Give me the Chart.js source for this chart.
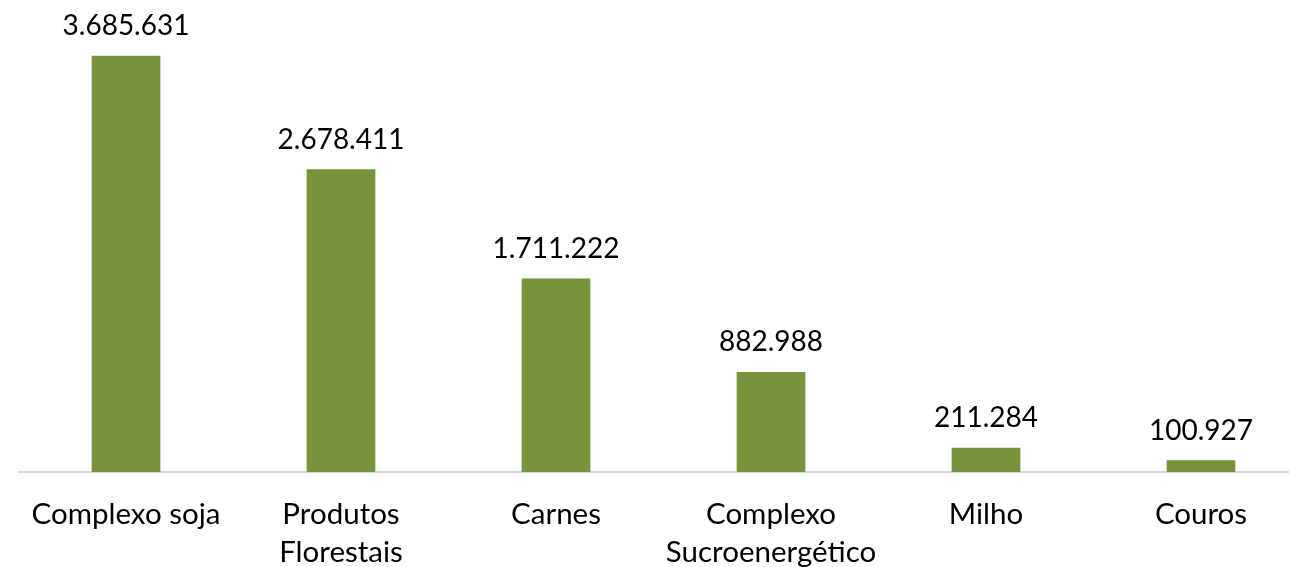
<!DOCTYPE html>
<html lang="pt-BR">
<head>
	<meta charset="UTF-8">
	<title>Exportações</title>
	<style>
		html, body { margin: 0; padding: 0; background: #fff; overflow: hidden; }
		#grafico-container { width: 1330px; height: 567px; position: relative; }
	</style>
</head>
<body>
	<div id="grafico-container">
		<canvas id="graficoBarras"></canvas>
	</div>

	<script src="https://cdn.jsdelivr.net/npm/chart.js"></script>
	<script>
		// Categorias e valores
		const categorias = [
			'Complexo soja',
			['Produtos', 'Florestais'],
			'Carnes',
			['Complexo', 'Sucroenergético'],
			'Milho',
			'Couros'
		];
		const valores = [3685631, 2678411, 1711222, 882988, 211284, 100927];

		const corBarra = '#77933C';
		const fonte = 'Lato, "Open Sans", sans-serif';

		// número no formato 1.234.567
		function formatar(v) {
			return String(v).replace(/\B(?=(\d{3})+(?!\d))/g, '.');
		}

		// escreve o valor em cima de cada barra
		const rotulos = {
			id: 'rotulos',
			afterDatasetsDraw(chart) {
				const c = chart.ctx;
				const meta = chart.getDatasetMeta(0);
				c.save();
				c.font = '28px ' + fonte;
				c.fillStyle = '#000';
				c.textAlign = 'center';
				c.textBaseline = 'alphabetic';
				meta.data.forEach((bar, i) => {
					c.fillText(formatar(valores[i]), bar.x, bar.y - 21);
				});
				c.restore();
			}
		};

		const ctx = document.getElementById('graficoBarras').getContext('2d');
		new Chart(ctx, {
			type: 'bar',
			data: {
				labels: categorias,
				datasets: [{
					data: valores,
					backgroundColor: corBarra,
					barThickness: 68
				}]
			},
			options: {
				responsive: true,
				maintainAspectRatio: false,
				animation: false,
				layout: { padding: { top: 20.5, left: 18.5, right: 21.5, bottom: 0 } },
				plugins: {
					legend: { display: false },
					tooltip: { enabled: false }
				},
				scales: {
					x: {
						grid: { display: false, drawTicks: false },
						border: { display: true, color: '#d9d9d9', width: 2 },
						ticks: {
							color: '#000',
							padding: 23,
							maxRotation: 0,
							autoSkip: false,
							font: { family: fonte, size: 29.5, lineHeight: 1.29 }
						},
						afterFit(scale) { scale.height = 95; }
					},
					y: {
						display: false,
						min: 0,
						max: 4000000
					}
				}
			},
			plugins: [rotulos]
		});
	</script>
</body>
</html>
